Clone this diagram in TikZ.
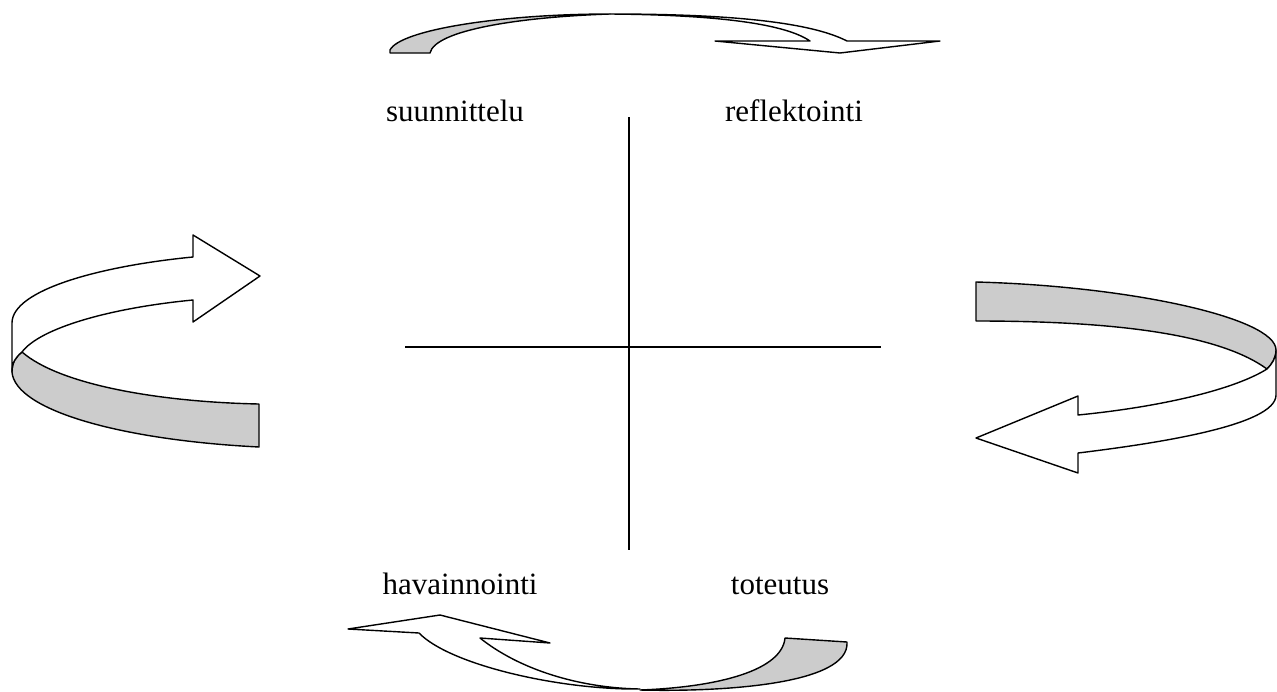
\documentclass[tikz,border=0pt]{standalone}
\usepackage{fontspec}
\setmainfont{Liberation Serif}
\begin{document}
\begin{tikzpicture}[x=1pt,y=-1pt,line join=round,
    front/.style={draw,line width=1.4pt,fill=white},
    back/.style={draw,line width=1.4pt,fill=black!20},
    phase/.style={font=\fontsize{31}{37}\selectfont,anchor=base}]
    \useasboundingbox (0,0) rectangle (1277,691);

    % Vaiheet
    \node[phase] (plan) at (455,121) {suunnittelu};
    \node[phase] (reflect) at (794,121) {reflektointi};
    \node[phase] (observe) at (460,594) {havainnointi};
    \node[phase] (act) at (780,594) {toteutus};

    % Akselit
    \coordinate (top) at (629,117);
    \coordinate (bottom) at (629,550);
    \coordinate (left) at (405,347);
    \coordinate (right) at (881,347);
    \draw[line width=1.4pt] (top) -- (bottom);
    \draw[line width=1.4pt] (left) -- (right);

    % Ylanuoli
    \draw[back] (390,53) -- (390,50) .. controls (400,30) and (500,14) .. (610,14)
      .. controls (520,17) and (435,30) .. (430,53) -- cycle;
    \draw[front] (610,14) .. controls (730,14) and (810,22) .. (847,41)
      -- (940,41) -- (840,53) -- (715,41) -- (810,41)
      .. controls (785,24) and (720,15) .. (610,14) -- cycle;

    % Oikea nuoli
    \draw[back] (976,282) .. controls (1130,286) and (1276,318) .. (1276,350)
      .. controls (1276,358) and (1272,364) .. (1267,369)
      .. controls (1220,335) and (1120,321) .. (976,321) -- cycle;
    \draw[front] (1267,369) .. controls (1230,392) and (1150,408) .. (1078,415)
      -- (1078,396) -- (976,438) -- (1078,473) -- (1078,453)
      .. controls (1160,443) and (1276,425) .. (1276,395) -- (1276,350)
      .. controls (1276,358) and (1272,364) .. (1267,369) -- cycle;

    % Alanuoli
    \draw[back] (785,638) -- (847,642) .. controls (850,685) and (720,692) .. (640,690)
      .. controls (720,687) and (782,670) .. (785,638) -- cycle;
    \draw[front] (348,629) -- (440,615) -- (550,643) -- (480,638)
      .. controls (520,670) and (580,688) .. (640,689)
      .. controls (560,690) and (450,665) .. (419,633) -- cycle;

    % Vasen nuoli
    \draw[back] (22,352) .. controls (60,385) and (160,402) .. (259,404)
      -- (259,447) .. controls (120,440) and (15,410) .. (12,372)
      .. controls (12,362) and (16,357) .. (22,352) -- cycle;
    \draw[front] (260,276) -- (193,235) -- (193,257)
      .. controls (100,266) and (12,290) .. (12,323) -- (12,372)
      .. controls (12,362) and (16,357) .. (22,352)
      .. controls (40,328) and (110,308) .. (193,300) -- (193,322) -- cycle;

  \end{tikzpicture}
\end{document}
